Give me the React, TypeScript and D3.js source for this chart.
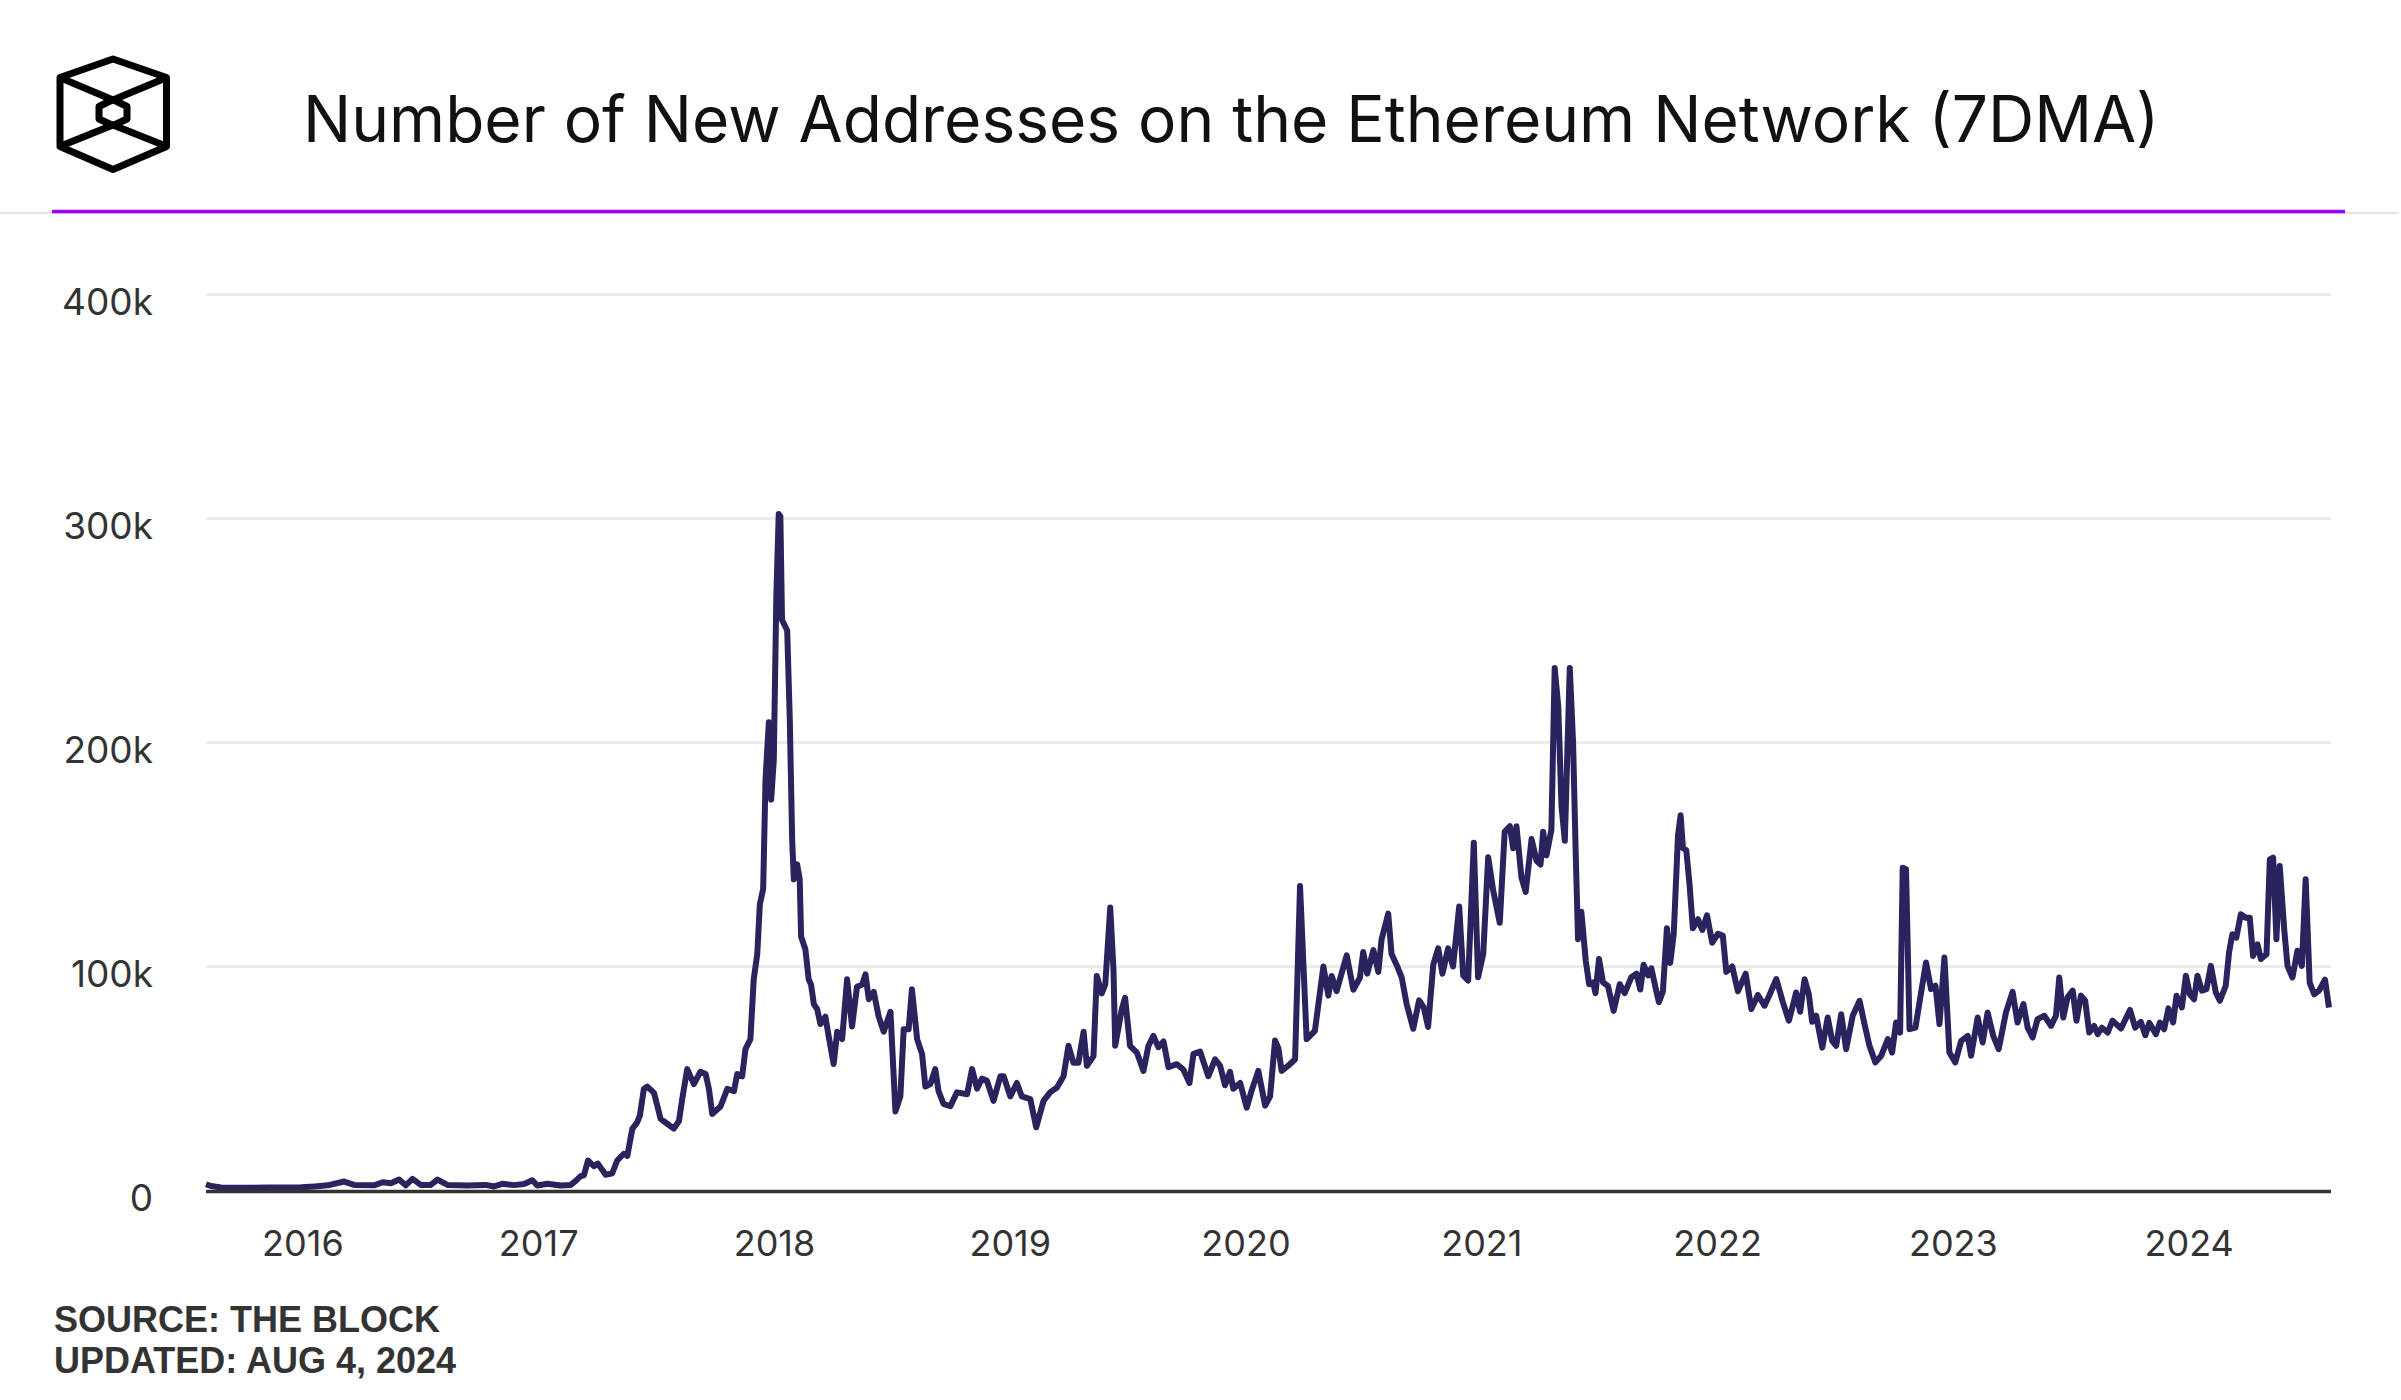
import React from "react";
import * as d3 from "d3";

// ---- Data: decimal year, new addresses (thousands, 7DMA) ----
const period2015to2016: [number, number][] = [
  [2015.589, 2.8], [2015.61, 2.0], [2015.653, 1.3], [2015.75, 1.2], [2015.85, 1.3], [2015.992, 1.4],
  [2016.05, 1.8], [2016.105, 2.3], [2016.175, 4.0], [2016.217, 2.5], [2016.302, 2.3], [2016.338, 3.7],
  [2016.373, 3.2], [2016.408, 4.9], [2016.436, 2.3], [2016.465, 5.2], [2016.5, 2.5], [2016.542, 2.5],
  [2016.571, 4.9], [2016.613, 2.5], [2016.698, 2.2], [2016.775, 2.5], [2016.811, 1.8], [2016.846, 3.0],
  [2016.895, 2.4], [2016.938, 2.9], [2016.973, 4.6], [2016.994, 2.2],
];
const period2017: [number, number][] = [
  [2017.037, 3.0], [2017.093, 2.2], [2017.136, 2.5], [2017.157, 4.3], [2017.178, 6.4], [2017.192, 6.8],
  [2017.209, 13.4], [2017.234, 10.9], [2017.251, 12.0], [2017.284, 7.0], [2017.312, 7.7], [2017.333, 13.4],
  [2017.361, 16.4], [2017.376, 15.5], [2017.397, 27.5], [2017.418, 30.5], [2017.429, 33.4], [2017.446, 45.3],
  [2017.461, 46.4], [2017.489, 43.6], [2017.517, 32.0], [2017.545, 29.8], [2017.573, 27.6], [2017.595, 31.0],
  [2017.609, 41.0], [2017.63, 54.2], [2017.658, 47.5], [2017.686, 53.0], [2017.708, 52.0], [2017.722, 45.4],
  [2017.736, 34.2], [2017.771, 37.5], [2017.8, 45.4], [2017.828, 44.3], [2017.842, 52.0], [2017.863, 51.0],
  [2017.877, 63.1], [2017.898, 67.6], [2017.912, 94.3], [2017.927, 105.5], [2017.938, 127.8], [2017.952, 134.5],
  [2017.962, 183.5], [2017.976, 209], [2017.986, 174.5], [2017.997, 192],
];
const period2018: [number, number][] = [
  [2018.008, 265.9], [2018.018, 302], [2018.025, 301], [2018.032, 254.7], [2018.054, 250], [2018.065, 210],
  [2018.075, 156.7], [2018.082, 138.9], [2018.096, 145.6], [2018.107, 138.9], [2018.113, 113.3], [2018.131, 107.7],
  [2018.145, 94.3], [2018.155, 92], [2018.167, 83.2], [2018.181, 81], [2018.195, 74.3], [2018.216, 77.6],
  [2018.23, 68.7], [2018.251, 56.5], [2018.266, 70.9], [2018.287, 67.6], [2018.308, 94.3], [2018.329, 73.2],
  [2018.35, 91], [2018.372, 92], [2018.386, 96.5], [2018.4, 85.4], [2018.421, 88.7], [2018.442, 77.6],
  [2018.463, 70.9], [2018.492, 79.8], [2018.513, 35.3], [2018.534, 42], [2018.548, 72], [2018.569, 72],
  [2018.583, 89.8], [2018.605, 67.6], [2018.626, 60.9], [2018.64, 46.4], [2018.661, 47.5], [2018.682, 54.2],
  [2018.696, 44.3], [2018.717, 38.7], [2018.746, 37.6], [2018.774, 43.8], [2018.817, 43], [2018.838, 54.2],
  [2018.859, 45.5], [2018.88, 50], [2018.901, 49], [2018.929, 40], [2018.958, 51], [2018.972, 51],
];
const period2019: [number, number][] = [
  [2019.0, 42], [2019.028, 48], [2019.049, 42], [2019.085, 40.8], [2019.11, 28.2], [2019.141, 40],
  [2019.169, 43.8], [2019.198, 46], [2019.226, 51], [2019.247, 64.6], [2019.268, 57], [2019.289, 57],
  [2019.311, 70.9], [2019.325, 55.7], [2019.353, 60], [2019.367, 95.8], [2019.388, 88], [2019.403, 92],
  [2019.424, 126.3], [2019.438, 98], [2019.445, 64.6], [2019.473, 80.9], [2019.487, 86], [2019.508, 64.6],
  [2019.537, 61.6], [2019.565, 53.4], [2019.586, 64.6], [2019.607, 69], [2019.628, 64], [2019.65, 66.5],
  [2019.671, 55], [2019.706, 56.4], [2019.734, 54], [2019.76, 48], [2019.777, 61], [2019.805, 62],
  [2019.84, 51], [2019.869, 58.6], [2019.89, 55.7], [2019.911, 47], [2019.932, 53], [2019.946, 45.4],
  [2019.975, 48],
];
const period2020: [number, number][] = [
  [2020.003, 37], [2020.024, 44.7], [2020.052, 53.4], [2020.081, 37.9], [2020.102, 42], [2020.123, 67],
  [2020.137, 63.5], [2020.151, 53.4], [2020.179, 55.7], [2020.208, 58.6], [2020.229, 135.9], [2020.257, 67.6],
  [2020.292, 71.3], [2020.328, 100], [2020.349, 87], [2020.363, 95.8], [2020.384, 89], [2020.427, 105],
  [2020.455, 89.6], [2020.483, 95], [2020.497, 106.5], [2020.514, 96.8], [2020.54, 107.3], [2020.561, 97.6],
  [2020.575, 112.2], [2020.603, 123.6], [2020.617, 105.7], [2020.638, 100.8], [2020.66, 95.2], [2020.681, 83.3],
  [2020.709, 72.2], [2020.734, 84.9], [2020.754, 81.7], [2020.772, 73], [2020.794, 100.8], [2020.815, 108.1],
  [2020.833, 96.8], [2020.857, 108.1], [2020.878, 100], [2020.904, 126.8], [2020.921, 96], [2020.942, 93.7],
  [2020.966, 155.3], [2020.984, 95.2],
];
const period2021: [number, number][] = [
  [2021.006, 105.7], [2021.027, 148.8], [2021.048, 134.1], [2021.076, 119.5], [2021.097, 160.2], [2021.119, 162.6],
  [2021.133, 152.8], [2021.147, 162.6], [2021.168, 139.8], [2021.186, 133.3], [2021.211, 156.9], [2021.232, 147.2],
  [2021.249, 145.5], [2021.26, 160.2], [2021.274, 149.6], [2021.295, 161], [2021.309, 233.3], [2021.324, 216.3],
  [2021.338, 171.5], [2021.352, 156.1], [2021.373, 233.3], [2021.387, 200], [2021.398, 151.2], [2021.408, 112.2],
  [2021.422, 124.4], [2021.441, 102.4], [2021.455, 92.1], [2021.472, 92.9], [2021.482, 88.1], [2021.497, 103.3],
  [2021.514, 92.9], [2021.535, 91.3], [2021.559, 80.2], [2021.585, 92.1], [2021.606, 88.1], [2021.634, 95.2],
  [2021.656, 96.8], [2021.672, 89.7], [2021.686, 100.8], [2021.705, 96], [2021.719, 99.2], [2021.737, 90.5],
  [2021.751, 84.1], [2021.768, 88.9], [2021.785, 117.1], [2021.799, 101.6], [2021.814, 114.6], [2021.832, 158.5],
  [2021.843, 167.5], [2021.853, 152.8], [2021.867, 152], [2021.881, 136.6], [2021.895, 117.1], [2021.917, 121.1],
  [2021.935, 116.3], [2021.955, 122.8], [2021.977, 110.6],
];
const period2022: [number, number][] = [
  [2022.001, 114.6], [2022.022, 113.8], [2022.037, 97.6], [2022.062, 100], [2022.086, 88.9], [2022.119, 96.8],
  [2022.143, 81], [2022.171, 87.3], [2022.199, 82.5], [2022.22, 87.3], [2022.249, 94.4], [2022.277, 84],
  [2022.302, 75.8], [2022.319, 82.5], [2022.333, 88.4], [2022.35, 79.8], [2022.369, 94.3], [2022.387, 87.6],
  [2022.401, 75.3], [2022.418, 78], [2022.444, 63.8], [2022.467, 77.2], [2022.486, 66.8], [2022.503, 64.6],
  [2022.524, 78.7], [2022.545, 63.1], [2022.573, 78], [2022.602, 84.7], [2022.623, 74.3], [2022.644, 64.6],
  [2022.669, 57.2], [2022.694, 60.2], [2022.722, 67.6], [2022.74, 61.6], [2022.757, 75], [2022.774, 70.5],
  [2022.785, 144.1], [2022.799, 143.4], [2022.814, 72], [2022.839, 72.7], [2022.863, 88.4], [2022.884, 101.8],
  [2022.905, 89.9], [2022.924, 91.4], [2022.941, 74.3], [2022.962, 104], [2022.983, 61.6],
];
const period2023: [number, number][] = [
  [2023.008, 57.2], [2023.033, 66.8], [2023.061, 69], [2023.075, 60.2], [2023.103, 77.2], [2023.124, 66.1],
  [2023.145, 79.5], [2023.169, 69], [2023.192, 63.1], [2023.223, 79.5], [2023.251, 88.7], [2023.272, 75],
  [2023.297, 83.2], [2023.315, 72.7], [2023.336, 68.3], [2023.357, 76.5], [2023.386, 78], [2023.414, 73.5],
  [2023.435, 78], [2023.449, 95.1], [2023.466, 77.2], [2023.484, 86.2], [2023.506, 89.2], [2023.522, 75.8],
  [2023.541, 87], [2023.559, 84.7], [2023.576, 70.5], [2023.597, 73.5], [2023.612, 69.8], [2023.63, 72.7],
  [2023.654, 70.5], [2023.675, 75.8], [2023.711, 72.3], [2023.749, 80.6], [2023.771, 72.7], [2023.795, 75.3],
  [2023.814, 69.3], [2023.831, 74.8], [2023.859, 69.8], [2023.876, 75], [2023.894, 72], [2023.912, 81.3],
  [2023.932, 75], [2023.946, 86.9], [2023.969, 81.7], [2023.986, 95.9],
];
const period2024: [number, number][] = [
  [2024.003, 87.6], [2024.021, 85.4], [2024.035, 95.9], [2024.054, 89.2], [2024.073, 89.9], [2024.092, 100.3],
  [2024.113, 88.4], [2024.13, 84.7], [2024.155, 91.4], [2024.169, 106.2], [2024.183, 114.4], [2024.2, 112.9],
  [2024.219, 123.3], [2024.24, 121.8], [2024.257, 121.8], [2024.271, 104.7], [2024.29, 109.9], [2024.304, 103.3],
  [2024.328, 105.5], [2024.342, 147.8], [2024.356, 148.6], [2024.37, 112.2], [2024.384, 144.9], [2024.403, 116.6],
  [2024.417, 100.3], [2024.438, 95.1], [2024.459, 107], [2024.478, 100.3], [2024.494, 138.9], [2024.511, 92.8],
  [2024.53, 87.6], [2024.551, 89.2], [2024.576, 94.1], [2024.593, 81.7],
];

const yTicks = [0, 100000, 200000, 300000, 400000];
const yTickLabels = ["0", "100k", "200k", "300k", "400k"];
const xTickYears = [2016, 2017, 2018, 2019, 2020, 2021, 2022, 2023, 2024];

const titleText = "Number of New Addresses on the Ethereum Network (7DMA)";
const sourceText = "SOURCE: THE BLOCK";
const updatedText = "UPDATED: AUG 4, 2024";

export default function App() {
  const W = 2401;
  const H = 1400;
  const series = [
    ...period2015to2016, ...period2017, ...period2018, ...period2019, ...period2020,
    ...period2021, ...period2022, ...period2023, ...period2024,
  ].map(([t, v]) => ({ t, v: v * 1000 }));

  const x = d3.scaleLinear().domain([2015.589, 2024.593]).range([206, 2329]);
  const y = d3.scaleLinear().domain([0, 400000]).range([1190.5, 294.5]);

  const line = d3
    .line<{ t: number; v: number }>()
    .x((d) => x(d.t))
    .y((d) => y(d.v))
    .curve(d3.curveLinear);

  const tickFont = "Inter, 'Noto Sans', sans-serif";

  return (
    <svg
      width={W}
      height={H}
      viewBox={`0 0 ${W} ${H}`}
      style={{ position: "absolute", left: 0, top: 0, background: "#fff" }}
    >
      <rect x={0} y={0} width={W} height={H} fill="#fff" />
      {/* Logo */}
      <g fill="none" stroke="#000" strokeWidth={7} strokeLinejoin="round" strokeLinecap="round">
        <polygon points="113,59 166.5,77.5 166.5,146.5 113,169.5 60,146.5 60,77.5" />
        <polyline points="62,78.5 113,100 164.5,78.5" />
        <polyline points="62,145.5 113,125 164.5,145.5" />
        <polygon points="113,99.5 127,106.5 127,119 113,125.5 99,119 99,106.5" />
      </g>
      {/* Title */}
      <text
        x={303}
        y={142}
        fontFamily="Inter, 'Noto Sans', sans-serif"
        fontSize={64}
        fill="#111"
      >
        {titleText}
      </text>
      {/* Header separator */}
      <line x1={0} x2={2398} y1={213} y2={213} stroke="#e3d2f4" strokeWidth={1.5} />
      <line x1={52} x2={2345} y1={211.5} y2={211.5} stroke="#a100ff" strokeWidth={3.5} />

      {/* Gridlines */}
      {yTicks.slice(1).map((t) => (
        <line key={t} x1={206} x2={2331} y1={y(t)} y2={y(t)} stroke="#ebebeb" strokeWidth={3} />
      ))}
      {/* Y labels */}
      {yTicks.map((t, i) => (
        <text
          key={t}
          x={153}
          y={y(t) + 20}
          textAnchor="end"
          fontFamily={tickFont}
          fontSize={37}
          fill="#333"
        >
          {yTickLabels[i]}
        </text>
      ))}
      {/* X labels */}
      {xTickYears.map((yr) => (
        <text
          key={yr}
          x={x(yr)}
          y={1256}
          textAnchor="middle"
          fontFamily={tickFont}
          fontSize={36}
          fill="#333"
        >
          {yr}
        </text>
      ))}

      {/* Data line */}
      <path
        d={line(series) || ""}
        fill="none"
        stroke="#2a245e"
        strokeWidth={6}
        strokeLinejoin="round"
        strokeLinecap="butt"
      />

      {/* Zero axis */}
      <line x1={206} x2={2331} y1={1191.5} y2={1191.5} stroke="#333" strokeWidth={3.5} />

      {/* Footer */}
      <text x={54} y={1332} fontFamily="'Liberation Sans', Arial, sans-serif" fontWeight={700} fontSize={36} fill="#333">
        {sourceText}
      </text>
      <text x={54} y={1373} fontFamily="'Liberation Sans', Arial, sans-serif" fontWeight={700} fontSize={36} fill="#333">
        {updatedText}
      </text>
    </svg>
  );
}
